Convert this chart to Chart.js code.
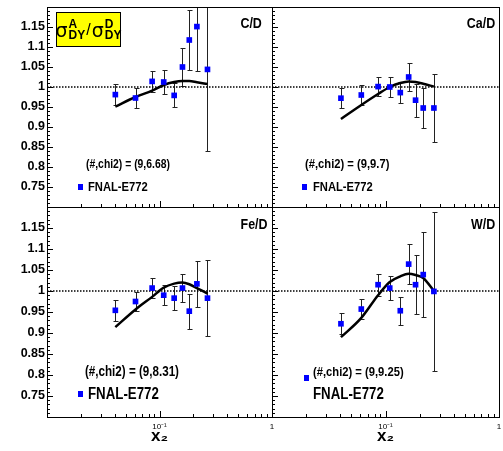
<!DOCTYPE html>
<html>
<head>
<meta charset="utf-8">
<script src="https://cdn.jsdelivr.net/npm/chart.js@4.4.1/dist/chart.umd.min.js"></script>
<style>
body{margin:0;background:#fff;width:503px;height:451px;position:relative;overflow:hidden;font-family:'Liberation Sans',Arial,sans-serif;font-weight:bold;color:#000}
canvas{position:absolute;left:0;top:0}
.lbl{position:absolute;white-space:nowrap;line-height:1;transform:scaleX(0.83);transform-origin:left center}
.rt{transform-origin:right center}
.mk{position:absolute;width:5px;height:6px;background:#0000ff}
.tbox{position:absolute;left:56px;top:12px;width:63px;height:33px;background:#ffff00;border:1px solid #000;display:flex;align-items:center;justify-content:center}
.sig{font-family:'DejaVu Sans',sans-serif;font-weight:normal;font-size:19px}
.stk{display:inline-flex;flex-direction:column;font-size:12px;line-height:11px;margin-left:1px}
.sl{font-size:16px;font-weight:normal;margin:0 1px}
</style>
</head>
<body>
<canvas id="cCD" width="503" height="451"></canvas>
<canvas id="cCaD" width="503" height="451"></canvas>
<canvas id="cFeD" width="503" height="451"></canvas>
<canvas id="cWD" width="503" height="451"></canvas>

<div class="tbox"><span class="sig">σ</span><span class="stk"><span>A</span><span>DY</span></span><span class="sl">/</span><span class="sig">σ</span><span class="stk"><span>D</span><span>DY</span></span></div>

<div class="lbl rt" style="right:241px;top:15px;font-size:15px">C/D</div>
<div class="lbl rt" style="right:8px;top:15px;font-size:15px">Ca/D</div>
<div class="lbl rt" style="right:235px;top:216px;font-size:15px">Fe/D</div>
<div class="lbl rt" style="right:8px;top:216px;font-size:15px">W/D</div>

<div class="lbl" style="left:86px;top:158px;font-size:12.5px">(#,chi2) = (9,6.68)</div>
<div class="mk" style="left:78px;top:184px"></div>
<div class="lbl" style="left:88px;top:180px;font-size:13.5px">FNAL-E772</div>

<div class="lbl" style="left:305px;top:157px;font-size:13.5px">(#,chi2) = (9,9.7)</div>
<div class="mk" style="left:302px;top:184px"></div>
<div class="lbl" style="left:313px;top:180px;font-size:13.5px">FNAL-E772</div>

<div class="lbl" style="left:85px;top:364px;font-size:14px">(#,chi2) = (9,8.31)</div>
<div class="mk" style="left:78px;top:391px"></div>
<div class="lbl" style="left:88px;top:386px;font-size:16px">FNAL-E772</div>

<div class="lbl" style="left:313px;top:365px;font-size:13.5px">(#,chi2) = (9,9.25)</div>
<div class="mk" style="left:304px;top:375px"></div>
<div class="lbl" style="left:313px;top:386px;font-size:16px">FNAL-E772</div>

<script>
// x2 bin centres (same for every target)
const xBins = [0.0405, 0.0612, 0.086, 0.109, 0.135, 0.160, 0.184, 0.215, 0.267]

// measured ratios and errors
const ratioCD = [0.981, 0.9725, 1.014, 1.0125, 0.979, 1.05, 1.1175, 1.151, 1.044]
const errCD = [0.027, 0.024, 0.026, 0.029, 0.03, 0.048, 0.076, 0.112, 0.203]
const ratioCaD = [0.972, 0.98, 1.001, 1.0, 0.986, 1.025, 0.967, 0.9475, 0.9475]
const errCaD = [0.025, 0.024, 0.023, 0.024, 0.027, 0.034, 0.041, 0.05, 0.084]
const ratioFeD = [0.954, 0.975, 1.007, 0.99, 0.983, 1.007, 0.952, 1.017, 0.983]
const errFeD = [0.025, 0.023, 0.023, 0.024, 0.028, 0.033, 0.042, 0.054, 0.09]
const ratioWD = [0.922, 0.957, 1.015, 1.007, 0.953, 1.064, 1.015, 1.039, 0.999]
const errWD = [0.0255, 0.0235, 0.026, 0.028, 0.033, 0.0475, 0.07, 0.101, 0.19]

// fitted curve read at the bin centres
const fitCD = [0.951, 0.975, 0.991, 1.005, 1.0125, 1.015, 1.015, 1.012, 1.0075]
const fitCaD = [0.92, 0.955, 0.9825, 1.0, 1.01, 1.014, 1.0125, 1.008, 1.001]
const fitFeD = [0.914, 0.956, 0.986, 1.008, 1.0175, 1.02, 1.016, 1.007, 0.994]
const fitWD = [0.89, 0.936, 0.99, 1.0215, 1.035, 1.041, 1.038, 1.031, 1.0]

// axis ranges and labels
const xRange = [0.01, 1]
const yRange = [0.7, 1.2]
const yStep = 0.05
const xLabelValues = [0.1, 1]
const xLabelTexts = ['10⁻¹', '1']
const xTitle = 'x₂'

const FONT = "'Liberation Sans',Arial,sans-serif"

const errorBars = {
  id: 'errorBars',
  beforeDatasetsDraw(chart) {
    const {ctx, chartArea: a, scales: {y}} = chart
    chart.data.datasets.forEach((ds, i) => {
      if (!ds.errors) return
      const meta = chart.getDatasetMeta(i)
      ctx.save()
      ctx.beginPath()
      ctx.rect(a.left, a.top, a.right - a.left, a.bottom - a.top)
      ctx.clip()
      ctx.strokeStyle = '#222'
      ctx.lineWidth = 1
      meta.data.forEach((pt, j) => {
        const v = ds.data[j].y, e = ds.errors[j]
        const x = Math.round(pt.x) + 0.5
        const yt = Math.round(y.getPixelForValue(v + e)) + 0.5
        const yb = Math.round(y.getPixelForValue(v - e)) + 0.5
        ctx.beginPath()
        ctx.moveTo(x, yt); ctx.lineTo(x, yb)
        ctx.moveTo(x - 2, yt); ctx.lineTo(x + 3, yt)
        ctx.moveTo(x - 2, yb); ctx.lineTo(x + 3, yb)
        ctx.stroke()
      })
      ctx.restore()
    })
  }
}

// ROOT style frame with inward ticks
const rootFrame = {
  id: 'rootFrame',
  afterDraw(chart) {
    const {ctx, chartArea: a, scales: {x, y}} = chart
    ctx.save()
    ctx.strokeStyle = '#000'
    ctx.lineWidth = 1
    ctx.strokeRect(Math.round(a.left) + 0.5, Math.round(a.top) + 0.5, Math.round(a.right - a.left), Math.round(a.bottom - a.top))
    ctx.beginPath()
    for (let i = 70; i <= 120; i++) {
      const py = Math.round(y.getPixelForValue(i / 100)) + 0.5
      const len = i % 5 === 0 ? 6 : 3
      ctx.moveTo(a.left, py); ctx.lineTo(a.left + len, py)
    }
    for (let d = -2; d < 0; d++) {
      for (let m = 1; m <= 9; m++) {
        const px = Math.round(x.getPixelForValue(m * Math.pow(10, d))) + 0.5
        const len = m === 1 ? 6 : 3
        ctx.moveTo(px, a.bottom); ctx.lineTo(px, a.bottom - len)
      }
    }
    ctx.stroke()
    ctx.restore()
  }
}

function makePanel(id, ratio, err, fit, left, bottom) {
  const pad = {
    left: left ? 0 : 272,
    right: left ? 231 : 4,
    top: bottom ? 207 : 7,
    bottom: bottom ? 4 : 244
  }
  new Chart(document.getElementById(id), {
    type: 'scatter',
    data: {
      datasets: [
        {
          data: xBins.map((x, i) => ({x: x, y: ratio[i]})),
          errors: err,
          pointStyle: 'rect',
          pointRadius: 4,
          backgroundColor: '#0000ff',
          borderWidth: 0
        },
        {
          data: xBins.map((x, i) => ({x: x, y: fit[i]})),
          showLine: true,
          borderColor: '#000',
          borderWidth: 2.5,
          pointRadius: 0,
          cubicInterpolationMode: 'monotone'
        },
        {
          data: xRange.map(x => ({x: x, y: 1})),
          showLine: true,
          borderColor: '#000',
          borderWidth: 1.3,
          borderDash: [1.5, 1.5],
          pointRadius: 0
        }
      ]
    },
    options: {
      responsive: false,
      animation: false,
      events: [],
      layout: {padding: pad},
      plugins: {legend: {display: false}, tooltip: {enabled: false}},
      scales: {
        x: {
          type: 'logarithmic',
          min: xRange[0],
          max: xRange[1],
          grid: {display: false, drawTicks: false},
          border: {display: false},
          afterFit: s => { s.height = bottom ? 30 : 0; s.paddingLeft = 0; s.paddingRight = 0 },
          afterBuildTicks: s => { s.ticks = xLabelValues.map(v => ({value: v})) },
          ticks: {
            display: bottom,
            autoSkip: false,
            maxRotation: 0,
            padding: 5,
            color: '#000',
            font: {family: FONT, size: 8},
            callback: v => {
              const k = xLabelValues.findIndex(t => Math.abs(t - v) < 1e-9)
              return k < 0 ? '' : xLabelTexts[k]
            }
          },
          title: {
            display: bottom,
            text: xTitle,
            color: '#000',
            padding: 0,
            font: {family: FONT, size: 17, weight: 'bold'}
          }
        },
        y: {
          min: yRange[0],
          max: yRange[1],
          grid: {display: false, drawTicks: false},
          border: {display: false},
          afterFit: s => { s.width = left ? 47 : 0; s.paddingTop = 0; s.paddingBottom = 0 },
          ticks: {
            display: left,
            stepSize: yStep,
            padding: 2,
            color: '#000',
            font: {family: FONT, size: 12.5, weight: 'bold'},
            callback: v => {
              const r = Math.round(v * 100) / 100
              if (r <= yRange[0] || r >= yRange[1]) return ''
              return String(r)
            }
          }
        }
      }
    },
    plugins: [errorBars, rootFrame]
  })
}

makePanel('cCD', ratioCD, errCD, fitCD, true, false)
makePanel('cCaD', ratioCaD, errCaD, fitCaD, false, false)
makePanel('cFeD', ratioFeD, errFeD, fitFeD, true, true)
makePanel('cWD', ratioWD, errWD, fitWD, false, true)
</script>
</body>
</html>
